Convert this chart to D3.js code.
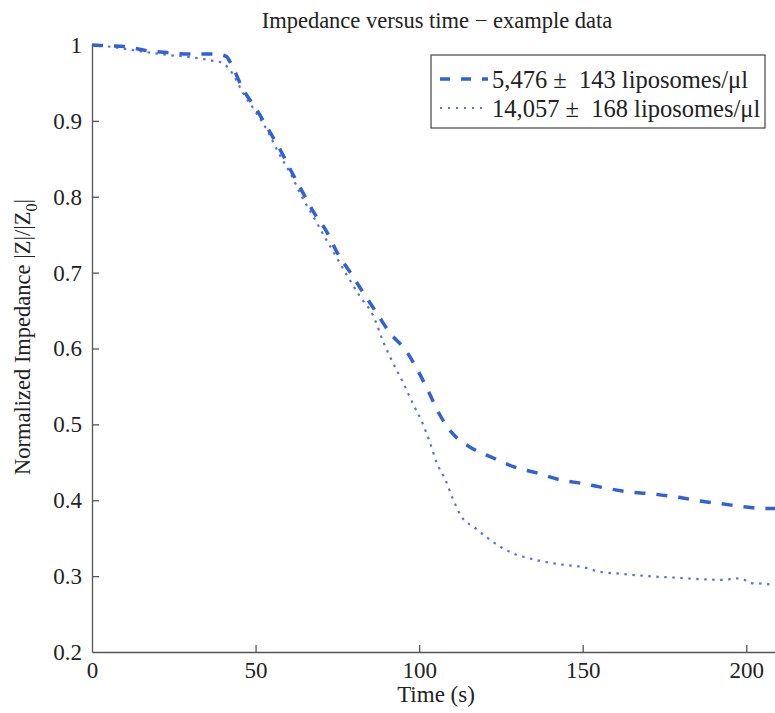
<!DOCTYPE html>
<html lang="en">

<head>
    <meta charset="UTF-8" />
    <title>Impedance versus time</title>
    <style>
        body { margin: 0; background: #fff; }
        svg { display: block; }
        svg text { font-family: 'Liberation Serif', 'Times New Roman', serif !important; fill: #222; }
        .axis path, .axis line { stroke: #555; stroke-width: 1.3; }
    </style>
</head>

<body>
    <svg id="chart"></svg>

    <script src="https://d3js.org/d3.v7.min.js"></script>
    <script>
        // sample times (s) and normalized impedance for each concentration
        const lowTime = [0, 5, 10, 16, 23, 30, 38, 41, 43, 46, 50, 54, 57.5, 61, 64.5, 68, 72, 75, 79, 83, 87, 91, 96, 99.6,
            103, 106, 110, 116, 122.5, 129, 136, 143, 150, 157, 164, 172, 179, 186, 193, 200, 205, 210];
        const lowValues = [1.0, 0.999, 0.998, 0.993, 0.990, 0.988, 0.988, 0.985, 0.971, 0.943, 0.917, 0.888, 0.862, 0.833,
            0.805, 0.778, 0.752, 0.726, 0.700, 0.673, 0.647, 0.621, 0.597, 0.571, 0.542, 0.515, 0.489, 0.469, 0.456,
            0.444, 0.436, 0.427, 0.422, 0.416, 0.411, 0.408, 0.404, 0.399, 0.395, 0.391, 0.389, 0.389];

        const highTime = [0, 5, 10, 16, 23, 30, 36, 40, 43, 46, 50, 54, 57, 61, 64, 67.5, 71, 74.5, 78, 82, 86, 89, 92, 95,
            98, 101, 103.3, 105.4, 108, 110.4, 113, 117, 121.6, 127.7, 136, 144, 150, 155, 162, 170, 178, 186, 193,
            197, 199, 201, 205, 210];
        const highValues = [1.0, 0.998, 0.995, 0.991, 0.987, 0.984, 0.980, 0.976, 0.962, 0.938, 0.912, 0.884, 0.858,
            0.828, 0.801, 0.775, 0.748, 0.722, 0.696, 0.668, 0.643, 0.609, 0.581, 0.556, 0.528, 0.502, 0.476, 0.449,
            0.427, 0.401, 0.378, 0.364, 0.348, 0.332, 0.321, 0.315, 0.312, 0.306, 0.303, 0.300, 0.298, 0.296, 0.295,
            0.297, 0.296, 0.291, 0.290, 0.288];

        const legendLabels = ['5,476 \u00b1  143 liposomes/\u03bcl', '14,057 \u00b1  168 liposomes/\u03bcl'];
        const xTicks = [0, 50, 100, 150, 200];
        const yTicks = [0.2, 0.3, 0.4, 0.5, 0.6, 0.7, 0.8, 0.9, 1];

        const width = 775;
        const height = 713;
        const blue = '#2f62d6';
        const blueLight = '#5573db';
        const serif = "'Liberation Serif', 'Times New Roman', serif";

        const svg = d3.select('#chart')
            .attr('width', width)
            .attr('height', height);

        const x = d3.scaleLinear().domain([0, 210]).range([92, 779]);
        const y = d3.scaleLinear().domain([0.2, 1]).range([652, 45]);

        const styleAxis = g => {
            g.attr('font-family', null).attr('font-size', null);
            g.selectAll('.tick text')
                .style('font-family', serif)
                .style('font-size', '23px');
        };

        // axes (ticks point inward, no box)
        svg.append('g')
            .attr('class', 'axis')
            .attr('transform', `translate(0,${y(0.2)})`)
            .call(d3.axisBottom(x).tickValues(xTicks).tickSizeInner(-7).tickSizeOuter(0).tickPadding(10))
            .call(styleAxis);

        svg.append('g')
            .attr('class', 'axis')
            .attr('transform', `translate(${x(0)},0)`)
            .call(d3.axisLeft(y).tickValues(yTicks).tickFormat(d => d === 1 ? '1' : d3.format('.1f')(d))
                .tickSizeInner(-7).tickSizeOuter(0).tickPadding(10))
            .call(styleAxis);

        svg.selectAll('.axis .tick line').filter(d => d === 0 || d === 0.2 || d === 1).remove();

        const line = d3.line().curve(d3.curveMonotoneX);

        svg.append('path')
            .datum(highTime.map((t, i) => [x(t), y(highValues[i])]))
            .attr('d', line)
            .attr('fill', 'none')
            .attr('stroke', blueLight)
            .attr('stroke-width', 2.2)
            .attr('stroke-dasharray', '2.5,5.5');

        svg.append('path')
            .datum(lowTime.map((t, i) => [x(t), y(lowValues[i])]))
            .attr('d', line)
            .attr('fill', 'none')
            .attr('stroke', blue)
            .attr('stroke-width', 3.5)
            .attr('stroke-dasharray', '11,11');

        // title and axis labels
        svg.append('text')
            .attr('x', 437).attr('y', 28)
            .attr('text-anchor', 'middle')
            .style('font-size', '22.5px')
            .text('Impedance versus time \u2212 example data');

        svg.append('text')
            .attr('x', 436).attr('y', 702)
            .attr('text-anchor', 'middle')
            .style('font-size', '23px')
            .text('Time (s)');

        const ylab = svg.append('text')
            .attr('transform', 'translate(30,337) rotate(-90)')
            .attr('text-anchor', 'middle')
            .style('font-size', '22.5px');
        ylab.append('tspan').text('Normalized Impedance |Z|/|Z');
        ylab.append('tspan').attr('dy', 7).style('font-size', '16px').text('0');
        ylab.append('tspan').attr('dy', -7).text('|');

        // legend
        const legend = svg.append('g').attr('transform', 'translate(431,55)');
        legend.append('rect')
            .attr('width', 334).attr('height', 73)
            .attr('fill', '#fff')
            .attr('stroke', '#444')
            .attr('stroke-width', 1.2);

        const styles = [
            { color: blue, w: 3.5, dash: '10,11' },
            { color: blueLight, w: 2.2, dash: '2,6' }
        ];
        legendLabels.forEach((lab, i) => {
            const row = legend.append('g').attr('transform', `translate(0,${24 + i * 29})`);
            row.append('line')
                .attr('x1', 9).attr('x2', 57)
                .attr('stroke', styles[i].color)
                .attr('stroke-width', styles[i].w)
                .attr('stroke-dasharray', styles[i].dash);
            row.append('text')
                .attr('x', 61).attr('y', 9)
                .style('font-size', '24.5px')
                .style('white-space', 'pre')
                .text(lab);
        });
    </script>
</body>

</html>
